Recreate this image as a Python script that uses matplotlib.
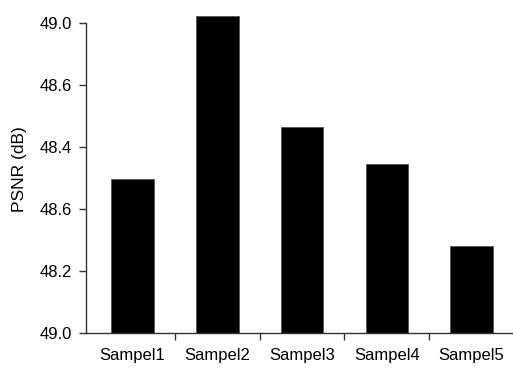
import matplotlib
matplotlib.use('Agg')
import matplotlib.pyplot as plt

samples = ['Sampel1', 'Sampel2', 'Sampel3', 'Sampel4', 'Sampel5']
# bar heights in tick-step units (axis labels below are as printed in the source)
heights = [2.48, 5.11, 3.32, 2.73, 1.40]
ytick_pos = [0, 1, 2, 3, 4, 5]
ytick_labels = ['49.0', '48.2', '48.6', '48.4', '48.6', '49.0']

plt.rcParams['font.family'] = ['Liberation Sans', 'DejaVu Sans']

fig = plt.figure(figsize=(5.13, 3.70), dpi=100)
ax = fig.add_axes([86 / 513, 37 / 370, (514 - 86) / 513, 328 / 370])

x = list(range(len(samples)))
ax.bar(x, heights, width=0.5, color='black', edgecolor='#555555', linewidth=0.6)

ax.set_xlim(-0.55, 4.5)
ax.set_ylim(0, 5.29)
ax.spines['top'].set_visible(False)
ax.spines['right'].set_visible(False)
ax.spines['left'].set_bounds(0, 5)
for s in ['left', 'bottom']:
    ax.spines[s].set_color('#333333')
    ax.spines[s].set_linewidth(1.0)

ax.set_yticks(ytick_pos)
ax.set_yticklabels(ytick_labels)
ax.set_xticks([0.5, 1.5, 2.5, 3.5])
ax.set_xticklabels([])
ax.set_xticks(x, minor=True)
ax.set_xticklabels(samples, minor=True)
ax.tick_params(axis='x', which='minor', length=0, pad=11, labelsize=12)
ax.tick_params(axis='x', which='major', length=5, width=1, color='#333333', direction='out')
ax.tick_params(axis='y', length=5, width=1, color='#333333', labelsize=12, pad=5)
ax.set_ylabel('PSNR (dB)', fontsize=12.5, labelpad=9)

fig.savefig('out.png', dpi=100)
